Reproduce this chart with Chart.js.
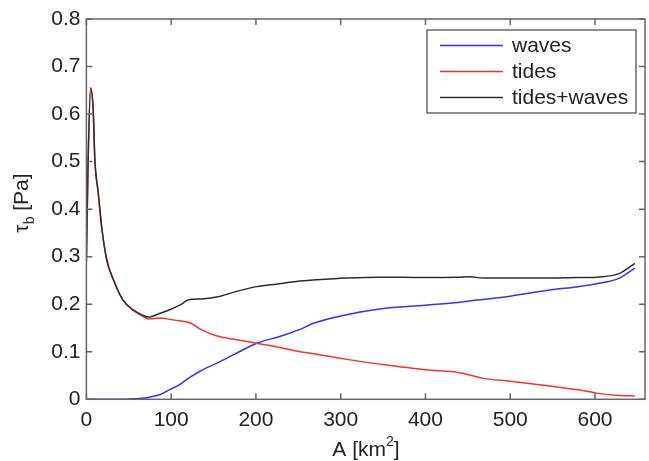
<!DOCTYPE html>
<html>
<head>
<meta charset="utf-8">
<script src="https://cdn.jsdelivr.net/npm/chart.js@4/dist/chart.umd.min.js"></script>
<style>
	body { margin: 0; background: #fff; }
	canvas { display: block; }
</style>
</head>
<body>
<canvas id="shearChart" width="649" height="461"></canvas>
<script>
// basin area A [km2]
const areas = [0, 2, 5, 8, 10, 14, 18, 24, 32, 43, 55, 65, 73, 87, 99, 110, 122, 135, 154, 175, 201, 228, 252, 268, 307, 346, 400, 440, 452, 468, 500, 547, 580, 602, 629, 647];
// bed shear stress [Pa]
const waves = [0, 0, 0, 0, 0, 0, 0, 0, 0, 0, 0.001, 0.002, 0.004, 0.010, 0.021, 0.031, 0.046, 0.060, 0.076, 0.095, 0.118, 0.132, 0.147, 0.160, 0.178, 0.190, 0.198, 0.204, 0.207, 0.210, 0.217, 0.230, 0.237, 0.243, 0.255, 0.276];
const tides = [0.29, 0.50, 0.655, 0.609, 0.504, 0.434, 0.363, 0.293, 0.251, 0.209, 0.188, 0.176, 0.169, 0.171, 0.168, 0.165, 0.161, 0.147, 0.133, 0.126, 0.118, 0.109, 0.100, 0.096, 0.084, 0.074, 0.062, 0.056, 0.051, 0.044, 0.038, 0.028, 0.020, 0.013, 0.008, 0.007];
const tidesWaves = [0.29, 0.50, 0.655, 0.609, 0.504, 0.434, 0.363, 0.293, 0.251, 0.209, 0.188, 0.178, 0.173, 0.181, 0.189, 0.198, 0.210, 0.211, 0.215, 0.226, 0.237, 0.243, 0.249, 0.251, 0.255, 0.257, 0.256, 0.257, 0.258, 0.255, 0.255, 0.255, 0.256, 0.257, 0.265, 0.286];
const seriesNames = ['waves', 'tides', 'tides+waves'];
const xTicks = [0, 100, 200, 300, 400, 500, 600];
const yTicks = [0, 0.1, 0.2, 0.3, 0.4, 0.5, 0.6, 0.7, 0.8];

const FONT = '"Liberation Sans", Arial, sans-serif';
const AXIS_COLOR = '#666';

function toPoints(ys) {
	return areas.map((a, i) => ({ x: a, y: ys[i] }));
}

// box round the plot with inward ticks on all four sides, like matlab
const boxPlugin = {
	id: 'box',
	afterDraw(chart) {
		const ctx = chart.ctx;
		const a = chart.chartArea;
		const xs = chart.scales.x, ys = chart.scales.y;
		ctx.save();
		ctx.strokeStyle = AXIS_COLOR;
		ctx.lineWidth = 1.5;
		ctx.strokeRect(a.left, a.top, a.right - a.left, a.bottom - a.top);
		ctx.beginPath();
		xTicks.forEach(v => {
			const px = xs.getPixelForValue(v);
			ctx.moveTo(px, a.bottom); ctx.lineTo(px, a.bottom - 6);
			ctx.moveTo(px, a.top); ctx.lineTo(px, a.top + 6);
		});
		yTicks.forEach(v => {
			const py = ys.getPixelForValue(v);
			ctx.moveTo(a.left, py); ctx.lineTo(a.left + 6, py);
			ctx.moveTo(a.right, py); ctx.lineTo(a.right - 6, py);
		});
		ctx.stroke();

		// legend
		const lx = 427, ly = 30, lw = 209, lh = 83;
		ctx.fillStyle = '#fff';
		ctx.fillRect(lx, ly, lw, lh);
		ctx.strokeStyle = '#444';
		ctx.lineWidth = 1.2;
		ctx.strokeRect(lx, ly, lw, lh);
		ctx.font = '21px ' + FONT;
		ctx.textBaseline = 'middle';
		ctx.textAlign = 'left';
		chart.data.datasets.forEach((ds, i) => {
			const y = 45.5 + i * 26;
			ctx.strokeStyle = ds.borderColor;
			ctx.lineWidth = 1.5;
			ctx.beginPath();
			ctx.moveTo(440, y); ctx.lineTo(503, y);
			ctx.stroke();
			ctx.fillStyle = '#222';
			ctx.fillText(ds.label, 512, y + 1);
		});

		// axis titles
		ctx.fillStyle = '#222';
		ctx.textAlign = 'left';
		ctx.textBaseline = 'alphabetic';
		ctx.font = '21px ' + FONT;
		const xt = 'A [km';
		const xw = ctx.measureText(xt).width;
		ctx.font = '14px ' + FONT;
		const sw = ctx.measureText('2').width;
		ctx.font = '21px ' + FONT;
		const bw = ctx.measureText(']').width;
		let x0 = 366 - (xw + sw + bw) / 2;
		ctx.fillText(xt, x0, 456);
		ctx.font = '14px ' + FONT;
		ctx.fillText('2', x0 + xw, 446);
		ctx.font = '21px ' + FONT;
		ctx.fillText(']', x0 + xw + sw, 456);

		ctx.translate(28, 203);
		ctx.rotate(-Math.PI / 2);
		const tw = ctx.measureText('\u03c4').width;
		ctx.font = '14px ' + FONT;
		const subw = ctx.measureText('b').width;
		ctx.font = '21px ' + FONT;
		const pw = ctx.measureText(' [Pa]').width;
		const y0 = -(tw + subw + pw) / 2;
		ctx.fillText('\u03c4', y0, 0);
		ctx.font = '14px ' + FONT;
		ctx.fillText('b', y0 + tw, 6);
		ctx.font = '21px ' + FONT;
		ctx.fillText(' [Pa]', y0 + tw + subw, 0);
		ctx.restore();
	}
};

const ctx = document.getElementById('shearChart').getContext('2d');
const shearChart = new Chart(ctx, {
	type: 'line',
	data: {
		datasets: [{
			label: seriesNames[0],
			data: toPoints(waves),
			borderColor: 'rgb(50, 50, 255)',
			order: 2
		}, {
			label: seriesNames[1],
			data: toPoints(tides),
			borderColor: 'rgb(255, 45, 45)',
			order: 1
		}, {
			label: seriesNames[2],
			data: toPoints(tidesWaves),
			borderColor: 'rgb(45, 45, 45)',
			order: 0
		}]
	},
	options: {
		responsive: false,
		animation: false,
		devicePixelRatio: 1,
		layout: { padding: { top: 19, right: 4, left: 0, bottom: 0 } },
		elements: {
			line: { borderWidth: 1.5, cubicInterpolationMode: 'monotone', fill: false },
			point: { radius: 0 }
		},
		plugins: {
			legend: { display: false },
			tooltip: { enabled: false }
		},
		scales: {
			x: {
				type: 'linear',
				min: 0,
				max: 659,
				grid: { display: false, drawTicks: false },
				border: { display: false },
				afterBuildTicks: s => { s.ticks = xTicks.map(v => ({ value: v })); },
				afterFit: s => { s.height = 61.7; },
				ticks: {
					padding: 8,
					color: '#222',
					font: { family: FONT, size: 21 },
					maxRotation: 0
				}
			},
			y: {
				min: 0,
				max: 0.8,
				grid: { display: false, drawTicks: false },
				border: { display: false },
				afterBuildTicks: s => { s.ticks = yTicks.map(v => ({ value: v })); },
				afterFit: s => { s.width = 86.4; },
				ticks: {
					padding: 6,
					color: '#222',
					font: { family: FONT, size: 21 },
					callback: v => String(Math.round(v * 10) / 10)
				}
			}
		}
	},
	plugins: [boxPlugin]
});
</script>
</body>
</html>
